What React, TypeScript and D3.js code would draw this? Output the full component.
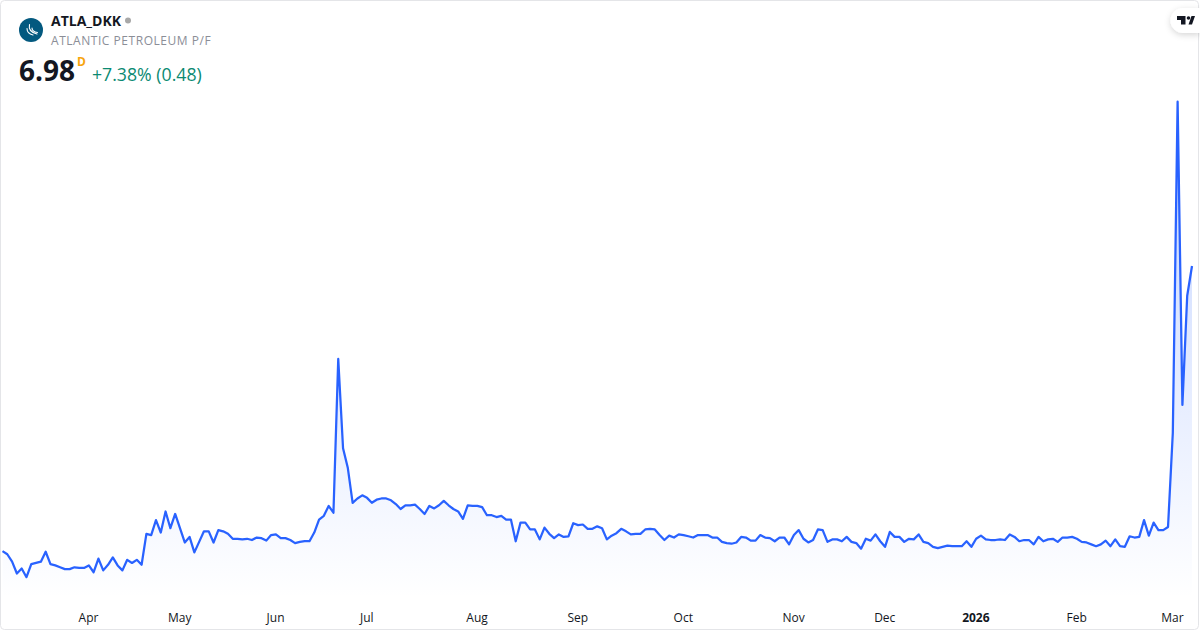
import React, { useEffect, useRef } from 'react'
import * as d3 from 'd3'

const closes = [
  2.38, 2.33, 2.21, 2.02, 2.10, 1.96, 2.17, 2.19, 2.21, 2.37, 2.17, 2.15, 2.12, 2.09, 2.09, 2.12, 2.11, 2.11, 2.15, 2.04,
  2.26, 2.07, 2.16, 2.28, 2.15, 2.07, 2.24, 2.19, 2.24, 2.16, 2.66, 2.64, 2.88, 2.68, 3.02, 2.75, 2.98, 2.75, 2.52, 2.61,
  2.36, 2.53, 2.70, 2.70, 2.52, 2.72, 2.70, 2.66, 2.58, 2.58, 2.57, 2.58, 2.56, 2.60, 2.59, 2.55, 2.64, 2.65, 2.59, 2.59,
  2.56, 2.51, 2.53, 2.54, 2.54, 2.68, 2.89, 2.95, 3.11, 3.00, 5.48, 4.04, 3.72, 3.16, 3.23, 3.28, 3.24, 3.16, 3.21, 3.23,
  3.23, 3.20, 3.14, 3.06, 3.12, 3.12, 3.13, 3.06, 2.98, 3.11, 3.07, 3.12, 3.19, 3.12, 3.06, 3.02, 2.90, 3.12, 3.11, 3.11,
  3.09, 2.96, 2.96, 2.93, 2.95, 2.89, 2.89, 2.54, 2.84, 2.84, 2.73, 2.73, 2.57, 2.76, 2.66, 2.59, 2.65, 2.61, 2.62, 2.83,
  2.80, 2.81, 2.74, 2.74, 2.78, 2.75, 2.57, 2.63, 2.67, 2.74, 2.70, 2.65, 2.66, 2.66, 2.73, 2.74, 2.73, 2.64, 2.56, 2.63,
  2.60, 2.65, 2.64, 2.62, 2.60, 2.64, 2.64, 2.64, 2.60, 2.60, 2.53, 2.51, 2.50, 2.52, 2.61, 2.60, 2.55, 2.55, 2.64, 2.60,
  2.59, 2.54, 2.60, 2.60, 2.49, 2.64, 2.72, 2.58, 2.52, 2.56, 2.73, 2.72, 2.53, 2.57, 2.57, 2.54, 2.61, 2.53, 2.51, 2.42,
  2.58, 2.55, 2.65, 2.54, 2.45, 2.69, 2.61, 2.61, 2.53, 2.58, 2.57, 2.65, 2.53, 2.51, 2.45, 2.43, 2.45, 2.47, 2.46, 2.46,
  2.46, 2.54, 2.45, 2.58, 2.63, 2.57, 2.56, 2.56, 2.57, 2.56, 2.65, 2.61, 2.54, 2.56, 2.56, 2.49, 2.61, 2.54, 2.57, 2.58,
  2.53, 2.60, 2.60, 2.61, 2.58, 2.53, 2.52, 2.49, 2.46, 2.49, 2.55, 2.46, 2.57, 2.46, 2.45, 2.62, 2.60, 2.61, 2.88, 2.63,
  2.84, 2.72, 2.72, 2.77, 4.29, 9.63, 4.74, 6.50, 6.98,
]

const tickIndexes = [18, 37, 57, 76, 99, 120, 142, 165, 184, 203, 224, 244]
const tickLabels = ['Apr', 'May', 'Jun', 'Jul', 'Aug', 'Sep', 'Oct', 'Nov', 'Dec', '2026', 'Feb', 'Mar']

const FONT = '"Open Sans", "Noto Sans", sans-serif'

export default function App() {
  const axisRef = useRef<SVGGElement>(null)

  const x = d3.scaleLinear().domain([0, closes.length - 1]).range([2.5, 1192])
  const y = d3.scaleLinear().domain([6.98, 2.56]).range([266, 540])

  const line = d3.line<number>().x((d, i) => x(i)).y(d => y(d))
  const area = d3.area<number>().x((d, i) => x(i)).y0(598).y1(d => y(d))

  useEffect(() => {
    const axis = d3.axisBottom(x)
      .tickValues(tickIndexes)
      .tickSize(0)
      .tickPadding(0)
      .tickFormat((d, i) => tickLabels[i])
    const g = d3.select(axisRef.current).call(axis as any)
    g.select('.domain').remove()
    g.selectAll('text')
      .attr('dy', 0)
      .attr('y', 0)
      .style('font-family', FONT)
      .style('font-size', '12px')
      .style('fill', '#131722')
      .style('font-weight', (d, i) => (tickLabels[i] === '2026' ? 700 : 400))
  }, [])

  return (
    <svg width={1200} height={630} style={{ position: 'absolute', left: 0, top: 0 }} fontFamily={FONT}>
      <defs>
        <linearGradient id="fade" gradientUnits="userSpaceOnUse" x1="0" y1="102" x2="0" y2="598">
          <stop offset="0" stopColor="#2962ff" stopOpacity={0.28} />
          <stop offset="1" stopColor="#2962ff" stopOpacity={0} />
        </linearGradient>
        <filter id="pill" x="-50%" y="-50%" width="200%" height="200%">
          <feDropShadow dx="0" dy="2" stdDeviation="3" floodColor="#000" floodOpacity={0.16} />
        </filter>
      </defs>

      <rect x={0.5} y={0.5} width={1198} height={629} rx={4} fill="#fff" stroke="#e4e5e8" />

      <path d={area(closes) ?? ''} fill="url(#fade)" />
      <path d={line(closes) ?? ''} fill="none" stroke="#2962ff" strokeWidth={2.25} strokeLinejoin="round" />
      <g ref={axisRef} transform="translate(-0.8,622)" />

      {/* symbol logo */}
      <circle cx={31} cy={30} r={12} fill="#03597f" />
      <g fill="none" stroke="#fff" strokeWidth={1.1} strokeLinecap="round">
        <path d="M29.5 24.5 C28.5 29 31 32.5 37 34" />
        <path d="M32 28 C32 30.5 34 32 37.5 32.5" />
        <path d="M27 28.5 C27 31.5 29 34 33 35" />
      </g>

      <text x={51} y={26} fontSize={14} fontWeight={700} fill="#131722">ATLA_DKK</text>
      <circle cx={128} cy={20.5} r={3} fill="#a8a8a8" />
      <text x={51} y={45} fontSize={12} fill="#8b8e97" letterSpacing={0.54}>ATLANTIC PETROLEUM P/F</text>

      <text x={19} y={81} fontSize={28} fontWeight={700} fill="#131722">6.98</text>
      <text x={77} y={66} fontSize={12} fontWeight={700} fill="#f7a50f">D</text>
      <text x={92} y={81} fontSize={17.7} fill="#0b8a72">+7.38% (0.48)</text>

      {/* TradingView badge */}
      <path d="M1200 8 H1183 A12.5 12.5 0 0 0 1183 33 H1200 Z" fill="#fff" filter="url(#pill)" />
      <path d="M1177 16 H1185.5 V24.5 H1181 V20 H1177 Z M1188.5 24.5 L1191.5 16 H1195 L1192 24.5 Z" fill="#131722" />
      <circle cx={1188.5} cy={18} r={1.8} fill="#131722" />
    </svg>
  )
}
